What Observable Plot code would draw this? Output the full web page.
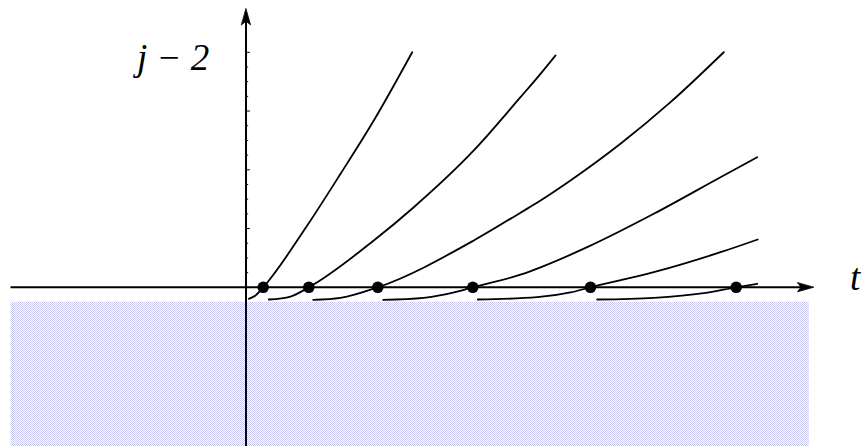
<!DOCTYPE html>
<html><head><meta charset="utf-8">
<script src="https://cdn.jsdelivr.net/npm/d3@7"></script>
<script src="https://cdn.jsdelivr.net/npm/@observablehq/plot@0.6"></script>
<style>html,body{margin:0;padding:0;background:#fff;overflow:hidden}</style>
</head><body><div id="chart"></div>
<script>
// curves (t, j-2)
const curve1T = [0.048, 0.162, 0.293, 1.042, 1.609, 2.175, 2.829];
const curve1Y = [-0.196, -0.140, 0, 1.052, 1.932, 2.839, 4.002];
const curve2T = [0.388, 0.757, 1.069, 2.175, 2.856, 3.877, 4.672, 5.013, 5.268];
const curve2Y = [-0.208, -0.157, 0, 0.797, 1.363, 2.329, 3.236, 3.634, 3.946];
const curve3T = [1.144, 1.609, 2.243, 3.877, 4.672, 5.013, 5.523, 6.374, 7.226, 8.133];
const curve3Y = [-0.213, -0.179, 0, 0.797, 1.270, 1.477, 1.818, 2.443, 3.151, 4.002];
const curve4T = [2.335, 3.026, 3.595, 3.860, 4.672, 5.013, 5.808, 6.941, 8.077, 8.701];
const curve4Y = [-0.213, -0.179, -0.075, 0, 0.215, 0.340, 0.683, 1.251, 1.874, 2.214];
const curve5T = [3.946, 4.957, 5.523, 5.864, 6.941, 8.077, 8.711];
const curve5Y = [-0.208, -0.169, -0.088, 0, 0.257, 0.597, 0.814];
const curve6T = [5.978, 6.941, 7.792, 8.344, 8.701];
const curve6Y = [-0.208, -0.179, -0.100, 0, 0.060];

// points where curves cross the t axis
const dotT = [0.293, 1.069, 2.243, 3.860, 5.864, 8.344];
const dotY = [0, 0, 0, 0, 0, 0];

// y axis ticks
const majorTicks = [1, 2, 3, 4];
const minorTicks = [0.25, 0.5, 0.75, 1.25, 1.5, 1.75, 2.25, 2.5, 2.75, 3.25, 3.5, 3.75];

// shaded region (t range, y range)
const shadeT = [-4.0, 9.59];
const shadeY = [-2.71, -0.254];

// axis extents
const axisT = [-4.0, 9.66];
const axisY = [-2.71, 4.74];

// labels
const labelText = ["j − 2", "t"];
const labelT = [-1.24, 10.37];
const labelY = [3.707, -0.05];

const curves = [[curve1T, curve1Y], [curve2T, curve2Y], [curve3T, curve3Y], [curve4T, curve4Y], [curve5T, curve5Y], [curve6T, curve6Y]];
const rows = curves.flatMap(([ts, ys], i) => ts.map((t, j) => ({t, y: ys[j], c: i})));
const dots = dotT.map((t, i) => ({t, y: dotY[i]}));

const arrowHead = {draw(ctx, l) {
  ctx.moveTo(0, -l); ctx.lineTo(4.5, 0); ctx.lineTo(0, -3.5); ctx.lineTo(-4.5, 0); ctx.closePath();
}};

const plot = Plot.plot({
  width: 864, height: 446, margin: 0,
  x: {domain: [-4.179, 10.528], axis: null},
  y: {domain: [-2.710, 4.882], axis: null},
  marks: [
    Plot.rect([0], {x1: shadeT[0], x2: shadeT[1], y1: shadeY[0], y2: shadeY[1], fill: "url(#hatch)"}),
    Plot.ruleY([0], {x1: axisT[0], x2: axisT[1] - 0.1, stroke: "black", strokeWidth: 2}),
    Plot.ruleX([0], {y1: axisY[0], y2: axisY[1] - 0.1, stroke: "black", strokeWidth: 2}),
    Plot.vector([0], {x: axisT[1], y: 0, length: 16, rotate: 90, anchor: "end", shape: arrowHead, fill: "black", stroke: "black", strokeWidth: 0.8}),
    Plot.vector([0], {x: 0, y: axisY[1], length: 16, rotate: 0, anchor: "end", shape: arrowHead, fill: "black", stroke: "black", strokeWidth: 0.8}),
    Plot.ruleY(minorTicks, {y: d => d, x1: 0, x2: 0.045, stroke: "black", strokeWidth: 1}),
    Plot.ruleY(majorTicks, {y: d => d, x1: 0, x2: 0.075, stroke: "black", strokeWidth: 1}),
    Plot.line(rows, {x: "t", y: "y", z: "c", curve: "monotone-x", stroke: "black", strokeWidth: 1.8}),
    Plot.dot(dots, {x: "t", y: "y", r: 5.8, fill: "black", stroke: "none"}),
    Plot.text(labelText, {x: (d, i) => labelT[i], y: (d, i) => labelY[i], text: d => d,
      textAnchor: (d, i) => i === 0 ? "middle" : "start",
      lineAnchor: "bottom", fontFamily: "Liberation Serif", fontStyle: "italic", fontSize: 37, fill: "black"})
  ]
});

const defs = document.createElementNS("http://www.w3.org/2000/svg", "defs");
defs.innerHTML = '<pattern id="hatch" width="2" height="2" patternUnits="userSpaceOnUse"><rect width="2" height="2" fill="#ffffff"/><rect width="1" height="1" fill="#c8c8f2"/><rect x="1" y="1" width="1" height="1" fill="#c8c8f2"/></pattern>';
plot.insertBefore(defs, plot.firstChild);
document.getElementById("chart").appendChild(plot);
</script>
</body></html>
